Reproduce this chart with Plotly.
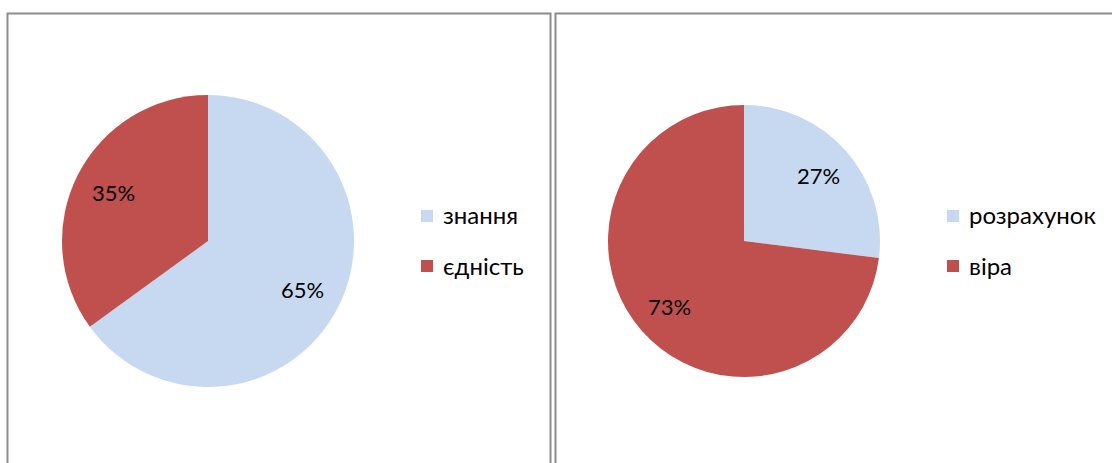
import math
import plotly.graph_objects as go

W, H = 1112, 463

left_labels = ["знання", "єдність"]
left_values = [65, 35]
right_labels = ["розрахунок", "віра"]
right_values = [27, 73]
colors = ["#C6D9F0", "#C0504D"]

FONT = "Lato"

def px_x(x):
    return x / W

def px_y(y):
    return 1 - y / H

def domain(cx, cy, r):
    return dict(x=[px_x(cx - r), px_x(cx + r)], y=[px_y(cy + r), px_y(cy - r)])

pies = [
    (left_labels, left_values, 208, 241, 146, 421),
    (right_labels, right_values, 744, 241, 136, 947),
]

fig = go.Figure()
shapes = []
annotations = []

for labels, values, cx, cy, r, lx in pies:
    fig.add_trace(go.Pie(labels=labels, values=values, sort=False,
                         direction="clockwise", rotation=0,
                         marker=dict(colors=colors, line=dict(width=0)),
                         textinfo="none",
                         domain=domain(cx, cy, r), showlegend=False,
                         hoverinfo="label+percent"))
    # data labels placed along each slice's mid-angle
    total = sum(values)
    cum = 0
    for v in values:
        mid = (cum + v / 2) / total * 2 * math.pi
        cum += v
        rr = 0.73 * r
        tx = cx + rr * math.sin(mid)
        ty = cy - rr * math.cos(mid)
        annotations.append(dict(xref="paper", yref="paper", x=px_x(tx), y=px_y(ty),
                                xanchor="center", yanchor="middle", showarrow=False,
                                text=f"{round(v / total * 100)}%",
                                font=dict(family=FONT, size=22, color="black")))
    # legend
    for i, lab in enumerate(labels):
        ly = 216 + 50 * i
        shapes.append(dict(type="rect", xref="paper", yref="paper",
                           x0=px_x(lx), x1=px_x(lx + 12), y0=px_y(ly + 6), y1=px_y(ly - 6),
                           line=dict(width=0), fillcolor=colors[i]))
        annotations.append(dict(xref="paper", yref="paper", x=px_x(lx + 20), y=px_y(ly - 1),
                                xanchor="left", yanchor="middle", showarrow=False,
                                text=lab, font=dict(family=FONT, size=24, color="black")))

# panel borders
for x0, x1 in [(7.5, 550.5), (555.5, 1125)]:
    shapes.append(dict(type="rect", xref="paper", yref="paper",
                       x0=px_x(x0), x1=px_x(x1), y0=px_y(480), y1=px_y(13.5),
                       line=dict(color="#8c8c8c", width=2), fillcolor="rgba(0,0,0,0)"))

fig.update_layout(width=W, height=H, margin=dict(l=0, r=0, t=0, b=0),
                  paper_bgcolor="white", plot_bgcolor="white",
                  shapes=shapes, annotations=annotations)
fig.write_html("out.html", config={"displayModeBar": False},
               post_script="document.body.style.margin='0';")
